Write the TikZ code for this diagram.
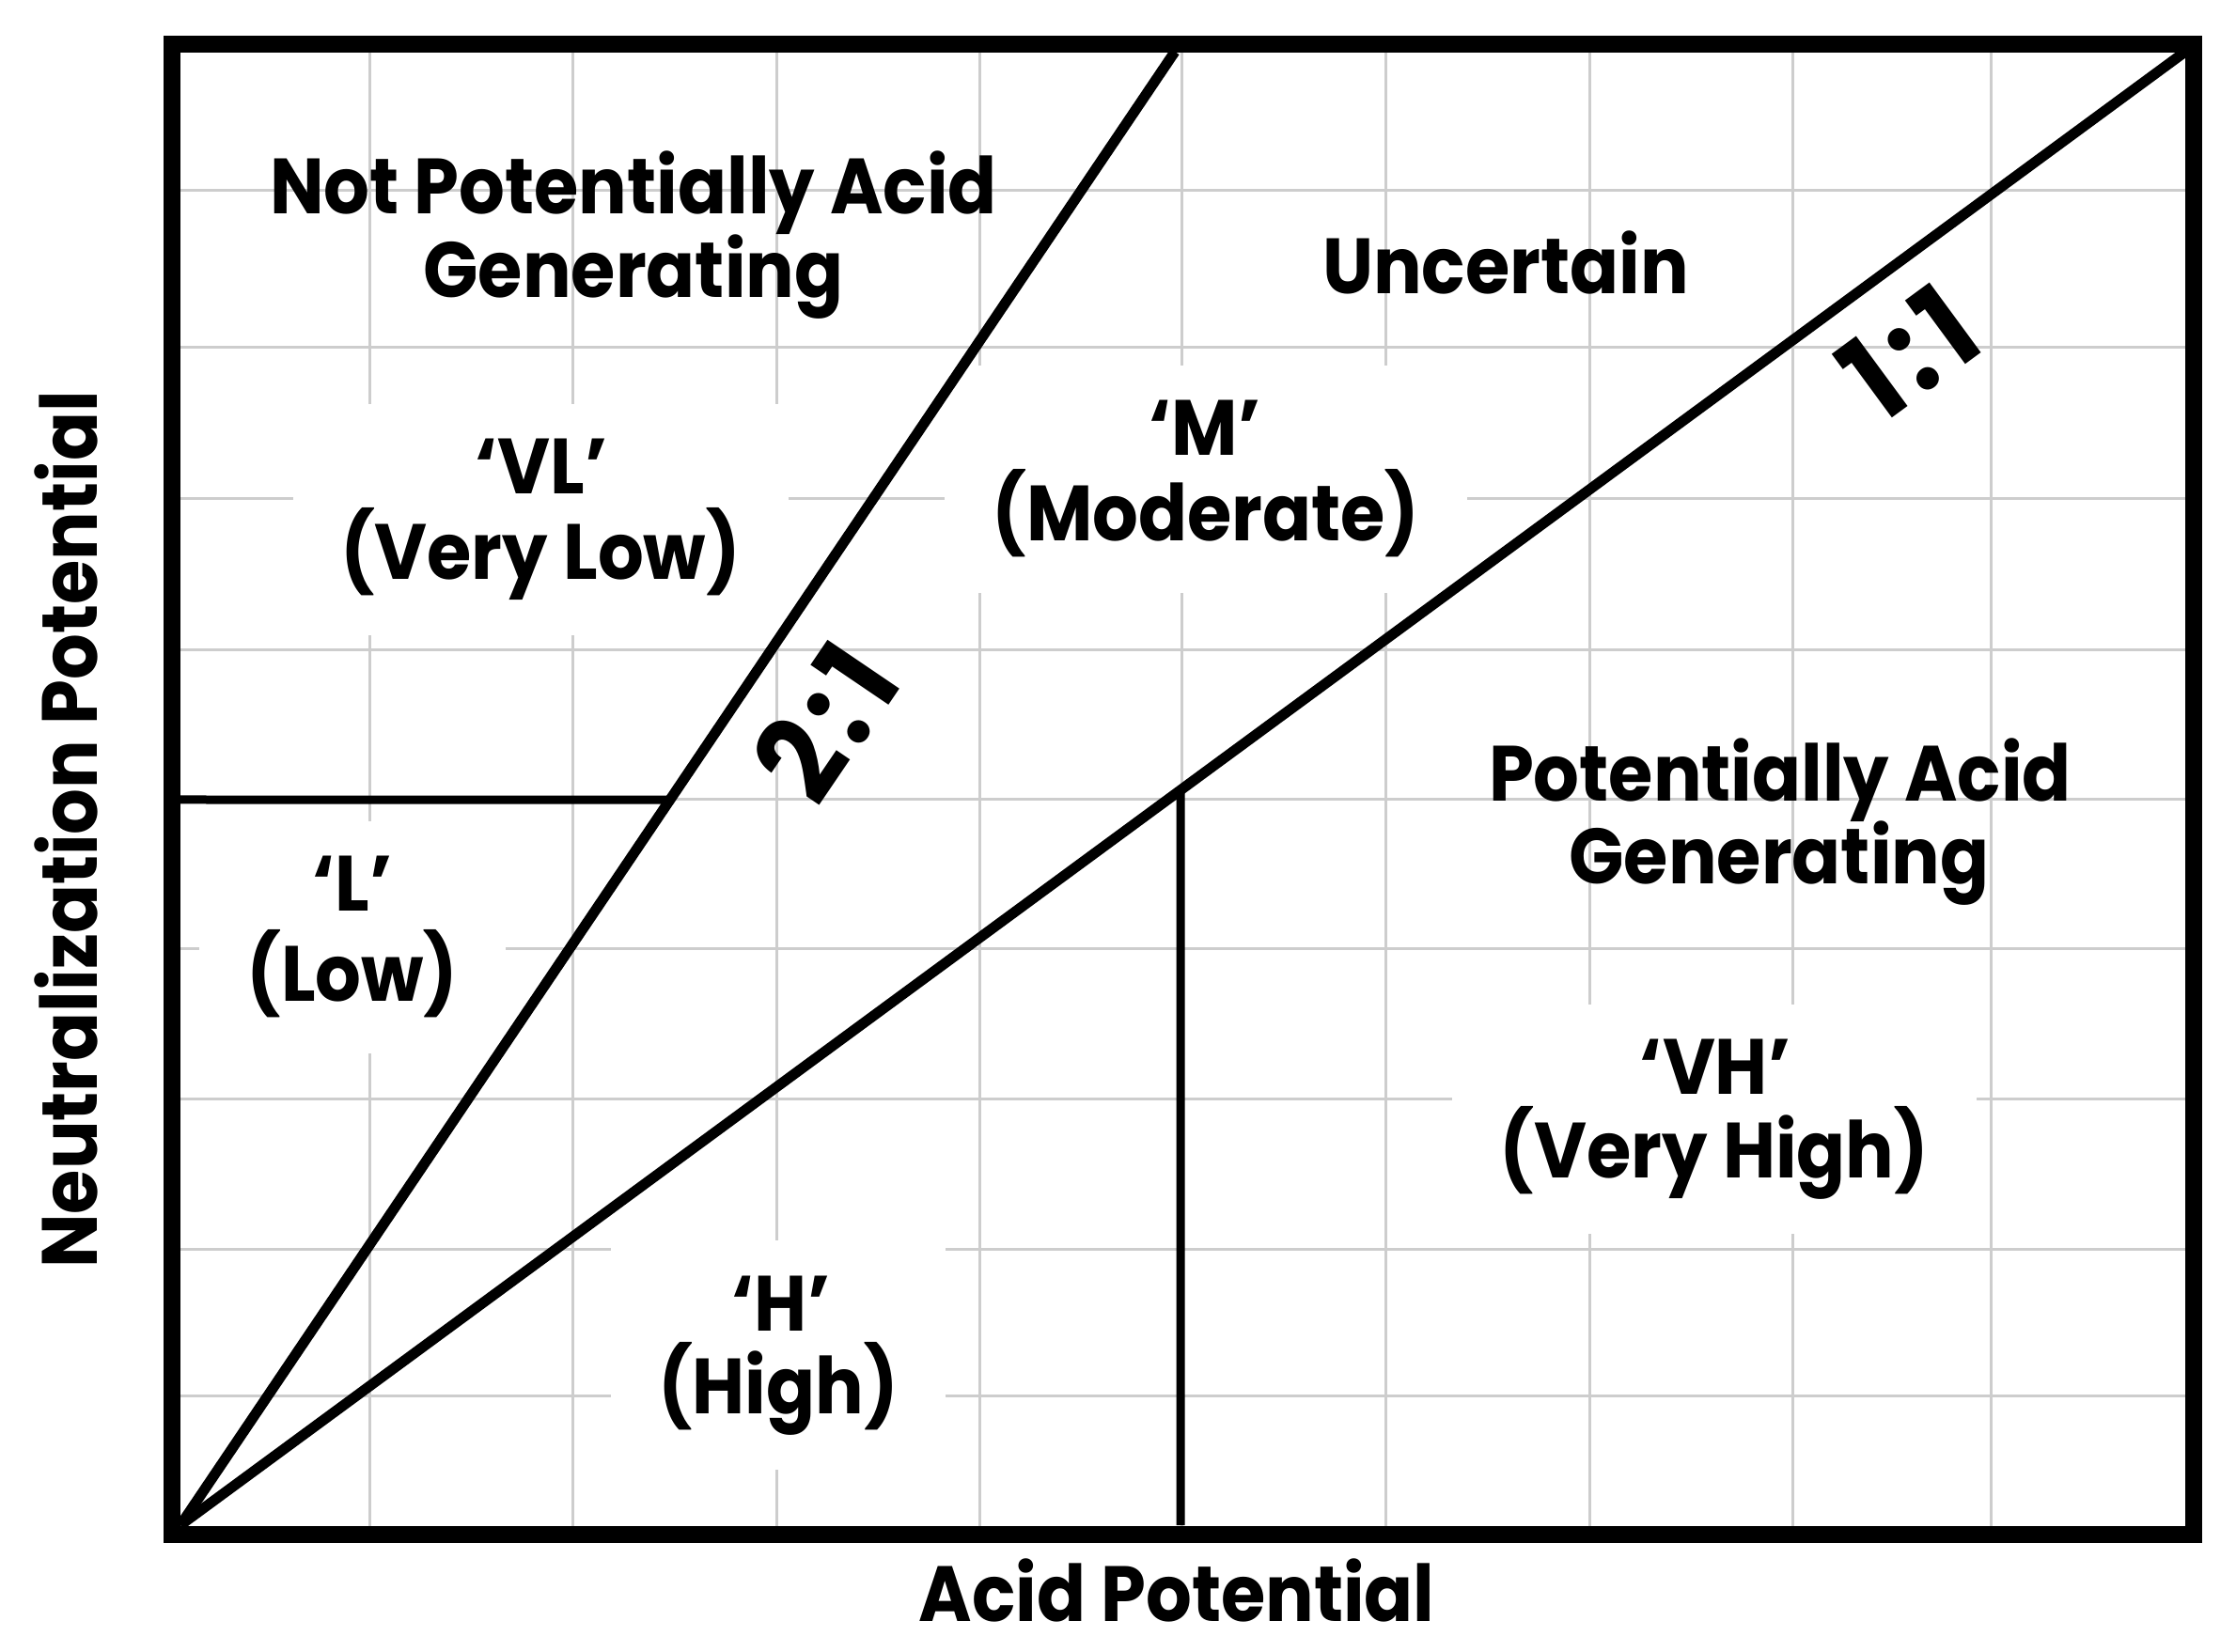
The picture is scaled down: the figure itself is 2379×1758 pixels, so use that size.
\documentclass[tikz,border=0pt]{standalone}
\usepackage{fontspec}
\setmainfont{Poppins}[FakeStretch=0.92]
\usetikzlibrary{fit}
\pgfdeclarelayer{gridlayer}
\pgfdeclarelayer{masklayer}
\pgfsetlayers{gridlayer,masklayer,main}
\definecolor{gridgray}{RGB}{205,205,205}
\newcommand\lblfont{\fontsize{25}{30}\selectfont\bfseries}
\newcommand\ratiofont{\fontsize{38}{44}\selectfont\bfseries}
\begin{document}
\begin{tikzpicture}[x=0.3pt,y=-0.3pt,
  gridline/.style={draw=gridgray,line width=0.9pt},
  frameline/.style={draw=black,line width=5.4pt},
  ratioline/.style={draw=black,line width=3.3pt},
  divline/.style={draw=black,line width=2.7pt},
  lbl/.style={font=\lblfont,anchor=base,inner sep=0pt},
  ratiolbl/.style={font=\ratiofont,inner sep=0pt},
  mask/.style={fill=white,draw=none,inner xsep=15pt,inner ysep=11pt},
]
\useasboundingbox (0,0) rectangle (2379,1758);

% grid
\begin{pgfonlayer}{gridlayer}
\foreach \gx in {393,609,826,1042,1257,1474,1691,1907,2118}
  \draw[gridline] (\gx,47) -- (\gx,1632);
\foreach \gy in {203,370,531,692,851,1010,1170,1329,1485}
  \draw[gridline] (182,\gy) -- (2334,\gy);
\end{pgfonlayer}

% key points
\coordinate (O) at (192,1623);
\coordinate (T21) at (1250,55);
\coordinate (T11) at (2325,55);
\coordinate (HL) at (192,851);
\coordinate (HR) at (1400,851);
\coordinate (VB) at (1256,1623);
\coordinate (VT) at (1256,55);
\coordinate (HX) at (intersection of O--T21 and HL--HR);
\coordinate (VX) at (intersection of O--T11 and VB--VT);

% dividing lines
\draw[ratioline] (O) -- (T21);
\draw[ratioline] (O) -- (T11);
\draw[divline] (HL) -- (HX);
\draw[divline] (VB) -- (VX);

% frame
\draw[frameline] (182.5,46.7) rectangle (2334,1632.5);

% region labels (no mask)
\node[lbl] (npag1) at (674,228) {Not Potentially Acid};
\node[lbl] (npag2) at (674,317) {Generating};
\node[lbl] (unc) at (1602,313) {Uncertain};
\node[lbl] (pag1) at (1894,853) {Potentially Acid};
\node[lbl] (pag2) at (1893,941) {Generating};

% class labels (masked)
\node[lbl] (vl1) at (576,526) {‘VL’};
\node[lbl] (vl2) at (575,617) {(Very Low)};
\node[lbl] (m1) at (1282,485) {‘M’};
\node[lbl] (m2) at (1283,576) {(Moderate)};
\node[lbl] (l1) at (375,970) {‘L’};
\node[lbl] (l2) at (375,1066) {(Low)};
\node[lbl] (h1) at (831,1416) {‘H’};
\node[lbl] (h2) at (828,1504) {(High)};
\node[lbl] (vh1) at (1825,1165) {‘VH’};
\node[lbl] (vh2) at (1824,1253) {(Very High)};

\begin{pgfonlayer}{masklayer}
\node[mask,fit=(vl1)(vl2)] (vlmask) {};
\node[mask,fit=(m1)(m2)] (mmask) {};
\node[mask,fit=(l1)(l2)] (lmask) {};
\node[mask,fit=(h1)(h2)] (hmask) {};
\node[mask,fit=(vh1)(vh2)] (vhmask) {};
\end{pgfonlayer}

% ratio labels
\node[ratiolbl,rotate=55.84] (r21) at (878,768) {2\kern3pt:\kern3pt1};
\node[ratiolbl,rotate=36.32] (r11) at (2031,375) {1\kern3pt:\kern3pt1};

% axis labels
\node[lbl] (xlab) at (1252,1725) {Acid Potential};
\node[lbl,rotate=90] (ylab) at (103,883) {Neutralization Potential};
\end{tikzpicture}
\end{document}
